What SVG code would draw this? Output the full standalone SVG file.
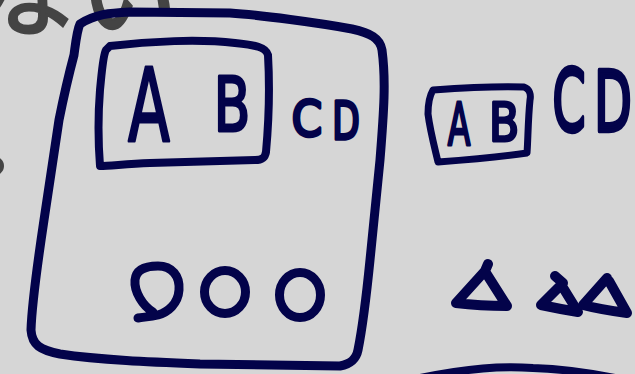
<svg xmlns="http://www.w3.org/2000/svg" width="635" height="374" viewBox="0 0 635 374">
<style>
.ink{fill:none;stroke:#03034a;stroke-linecap:round;stroke-linejoin:round}
.w10{stroke-width:10}
.w9{stroke-width:9}
.w8{stroke-width:8}
.w7{stroke-width:7}
.lt{font-family:"DejaVu Sans","Liberation Sans",sans-serif;fill:#03034a;stroke:#03034a;stroke-linejoin:round;text-anchor:middle}
.gray{font-family:"Noto Sans CJK JP","Noto Sans",sans-serif;fill:#444;stroke:#444;stroke-width:2.5}
</style>
<rect width="635" height="374" fill="#d6d6d6"/>
<g id="background-text">
<text class="gray" x="-23" y="28" font-size="100">ない</text>
<ellipse cx="-7" cy="166" rx="9" ry="8" fill="none" stroke="#444" stroke-width="4"/>
</g>
<g id="outer-box">
<path class="ink w9" d="M80,24 C95,14 110,13 130,12 L230,13 C260,15 320,23 352,29 C370,33 380,38 382,50 C386,80 384,110 380,160 L370,260 C366,300 362,330 358,350 C356,360 350,364 340,366 L200,364 C150,362 100,360 60,354 C40,350 32,345 31,330 C32,300 38,260 44,220 L59,120 C64,95 70,70 74,55 C76,40 77,30 80,24 Z"/>
</g>
<g id="inner-box">
<path class="ink w8" d="M110,46 C150,41 200,39 235,43 C255,45 266,47 268,55 C270,90 268,130 266,152 C265,158 262,160 255,160 L150,163 C125,164 110,166 100,166 C98,140 98,115 100,90 C102,70 103,55 106,50 Z"/>
<text class="lt" transform="translate(149,141) scale(0.6,1)" font-size="102" stroke-width="3">A</text>
<text class="lt" transform="translate(232,131) scale(0.72,1)" font-size="74" stroke-width="3">B</text>
</g>
<g id="cd-small">
<text class="lt" transform="translate(307,136) scale(0.87,1)" font-size="50" stroke-width="3.5">C</text>
<text class="lt" transform="translate(346,139) scale(0.7,1)" font-size="51" stroke-width="3.5">D</text>
</g>
<g id="circles">
<path class="ink w9" d="M153,312 C143,306 134,292 135,280 C136,270 145,266 158,266 C172,266 180,276 179,290 C178,304 168,312 158,315 C150,317 143,317 138,318"/>
<ellipse class="ink w9" cx="225" cy="292" rx="20.5" ry="21.5"/>
<ellipse class="ink w9" cx="300" cy="295" rx="20.5" ry="22.5"/>
</g>
<g id="ab-box">
<path class="ink w7" d="M433,90 C460,88 500,86 524,87 C530,89 531,95 530,100 C528,120 528,140 527,153 C500,157 465,160 438,162 C434,145 430,130 428,114 C428,105 430,95 433,90 Z"/>
<text class="lt" transform="translate(459,145) scale(0.56,1)" font-size="59" stroke-width="3">A</text>
<text class="lt" transform="translate(504,141) scale(0.83,1)" font-size="53" stroke-width="3">B</text>
</g>
<g id="cd-large">
<text class="lt" transform="translate(569,131) scale(0.55,1)" font-size="86" stroke-width="4.5">C</text>
<text class="lt" transform="translate(613,131) scale(0.58,1)" font-size="84" stroke-width="4.5">D</text>
</g>
<g id="triangles">
<path class="ink w10" d="M488,264 L485,271 L456,303 C472,305 492,306 507,306 L486,273"/>
<path class="ink w10" d="M555,276 L563,283 L541,305 C555,308 566,310 578,312 L562,286"/>
<path class="ink w10" d="M607,278 L583,305 C598,309 612,311 627,313 L609,281"/>
</g>
<g id="bottom-arc">
<path class="ink w8" d="M420,378 C470,368 500,366 533,368 C565,369 590,373 615,378"/>
</g>
</svg>
